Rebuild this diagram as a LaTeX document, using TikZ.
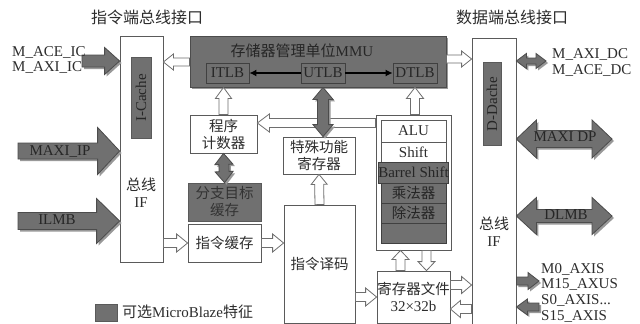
\documentclass[tikz,border=0pt]{standalone}
\usepackage{fontspec}
\setmainfont{Liberation Serif}
\newfontfamily\cjk{Noto Sans CJK SC}
\usetikzlibrary{calc,shadows,arrows.meta}
\definecolor{darkf}{RGB}{112,112,112}
\definecolor{edge}{RGB}{90,90,90}
\definecolor{txt}{RGB}{45,45,45}
\definecolor{harr}{RGB}{110,110,110}
\newcommand\zh[1]{{\cjk #1}}
\newcommand\fatarr[6][]{%
 \coordinate (fa-s) at #2; \coordinate (fa-e) at #3;
 \coordinate (fa-h) at ($(fa-e)!#6!(fa-s)$);
 \draw[#1] ($(fa-s)!#4!90:(fa-e)$) -- ($(fa-h)!#4!-90:(fa-s)$) -- ($(fa-h)!#5!-90:(fa-s)$) -- (fa-e) -- ($(fa-h)!#5!90:(fa-s)$) -- ($(fa-h)!#4!90:(fa-s)$) -- ($(fa-s)!#4!-90:(fa-e)$) -- cycle;}
\newcommand\fatdarr[6][]{%
 \coordinate (fa-s) at #2; \coordinate (fa-e) at #3;
 \coordinate (fa-h) at ($(fa-e)!#6!(fa-s)$);
 \coordinate (fa-g) at ($(fa-s)!#6!(fa-e)$);
 \draw[#1] (fa-s) -- ($(fa-g)!#5!90:(fa-e)$) -- ($(fa-g)!#4!90:(fa-e)$) -- ($(fa-h)!#4!-90:(fa-s)$) -- ($(fa-h)!#5!-90:(fa-s)$) -- (fa-e) -- ($(fa-h)!#5!90:(fa-s)$) -- ($(fa-h)!#4!90:(fa-s)$) -- ($(fa-g)!#4!-90:(fa-e)$) -- ($(fa-g)!#5!-90:(fa-e)$) -- cycle;}
\begin{document}
\begin{tikzpicture}[x=1pt,y=-1pt,
  lat/.style={font=\fontsize{15}{17}\selectfont, text=txt, inner sep=0pt, align=center},
  zht/.style={font=\cjk\fontsize{14.5}{17}\selectfont, text=txt, inner sep=0pt, align=center},
  wbox/.style={draw=edge, line width=0.8pt, fill=white, inner sep=0pt, text=txt, align=center, font=\cjk\fontsize{14.5}{17}\selectfont},
  dbox/.style={wbox, fill=darkf, text=black!85},
  shad/.style={drop shadow={shadow xshift=2pt, shadow yshift=-2pt, fill=black!40, opacity=1}},
  hol/.style={draw=harr, line width=0.8pt, fill=white},
  garr/.style={draw=black!70, line width=0.8pt, fill=darkf, shad},
  tlb/.style={draw=black!75, line width=0.8pt, fill=darkf, inner sep=0pt, minimum width=43pt, minimum height=20pt, font=\fontsize{15}{17}\selectfont, text=black!85}]
\useasboundingbox[fill=white] (0,0) rectangle (640,324);

% titles
\node[zht, font=\cjk\fontsize{16}{18}\selectfont] (t1) at (147,17) {指令端总线接口};
\node[zht, font=\cjk\fontsize{16}{18}\selectfont] (t2) at (512,17) {数据端总线接口};

% left bus
\node[wbox, minimum width=43pt, minimum height=226pt] (lbus) at (141.5,149) {};
\node[dbox, minimum width=20pt, minimum height=81pt] (icache) at (141,97.5) {};
\node[lat, rotate=90, text=black!85] (ictxt) at (141,98) {I-Cache};
\node[lat] (lbtxt) at (141,193) {\zh{总线}\\IF};

% right bus
\node[wbox, minimum width=44pt, minimum height=286pt] (rbus) at (494,181) {};
\node[dbox, minimum width=18pt, minimum height=83pt] (dcache) at (492,103.5) {};
\node[lat, rotate=90, text=black!85] (dctxt) at (492,104) {D-Dache};
\node[lat] (rbtxt) at (494,232) {\zh{总线}\\IF};

% MMU
\node[dbox, shad, draw=black!70, minimum width=256pt, minimum height=51pt] (mmu) at (318,61.5) {};
\node[lat, text=black!85] (mmut) at (302,51) {\zh{存储器管理单位}MMU};
\node[tlb] (itlb) at (227.5,73) {ITLB};
\node[tlb, minimum width=44pt] (utlb) at (323,73) {UTLB};
\node[tlb, minimum width=44pt] (dtlb) at (415,73) {DTLB};
\draw[black, line width=1.3pt, -{Latex[length=7pt,width=7pt]}] (utlb) -- (itlb);
\draw[black, line width=1.3pt, -{Latex[length=7pt,width=7pt]}] (utlb) -- (dtlb);

% middle blocks
\node[wbox, minimum width=67pt, minimum height=38pt] (pc) at (223.5,134) {程序\\计数器};
\node[dbox, minimum width=73pt, minimum height=38pt, text=black!80] (btc) at (224.5,202) {分支目标\\缓存};
\node[wbox, minimum width=73pt, minimum height=38pt] (ibuf) at (224.5,243) {指令缓存};
\node[wbox, minimum width=72pt, minimum height=37pt] (sfr) at (319,155.5) {特殊功能\\寄存器};
\node[wbox, minimum width=71pt, minimum height=118pt] (dec) at (319.5,264) {指令译码};

% ALU block
\node[wbox, minimum width=75pt, minimum height=135pt] (alubox) at (413.5,182.5) {};
\node[wbox, minimum width=65pt, minimum height=22pt, font=\fontsize{15}{17}\selectfont] (alu) at (413.5,131) {ALU};
\node[wbox, minimum width=65pt, minimum height=20pt, font=\fontsize{15}{17}\selectfont] (shift) at (413.5,152) {Shift};
\node[dbox, draw=black!75, minimum width=65pt, minimum height=21pt, font=\fontsize{15}{17}\selectfont] (barrel) at (413.5,172.5) {Barrel Shift};
\node[dbox, draw=black!75, minimum width=65pt, minimum height=20pt] (mul) at (413.5,193) {乘法器};
\node[dbox, draw=black!75, minimum width=65pt, minimum height=20pt] (div) at (413.5,213) {除法器};
\node[dbox, draw=black!75, minimum width=65pt, minimum height=20pt] (emp) at (413.5,233) {};

% register file
\node[wbox, minimum width=73pt, minimum height=52pt] (reg) at (413.5,297) {寄存器文件\\\fontsize{15}{17}\selectfont\rmfamily 32×32b};

% hollow arrows
\fatarr[hol]{(mmu.west |- 0,62)}{(lbus.east |- 0,62)}{4pt}{8pt}{10pt}
\fatarr[hol]{(mmu.east |- 0,59)}{(rbus.west |- 0,59)}{4pt}{8pt}{10pt}
\fatarr[hol]{(pc.north)}{(pc.north |- mmu.south)}{4.5pt}{8pt}{11pt}
\fatarr[hol]{(alubox.west |- 0,123)}{(pc.east |- 0,123)}{4.5pt}{9pt}{12pt}
\fatarr[hol]{(dec.north)}{(sfr.south)}{4.5pt}{8pt}{10pt}
\fatarr[hol]{([xshift=1.5pt]alubox.north)}{([xshift=1.5pt]alubox.north |- mmu.south)}{4.5pt}{8.5pt}{11pt}
\fatarr[hol]{(lbus.east |- ibuf.west)}{(ibuf.west)}{4.5pt}{9pt}{11pt}
\fatarr[hol]{(ibuf.east)}{(ibuf.east -| dec.west)}{4.5pt}{9pt}{11pt}
\fatarr[hol]{(dec.east |- reg.west)}{(reg.west)}{4.5pt}{9pt}{11pt}
\fatarr[hol]{([xshift=-13pt]reg.north)}{([xshift=-13pt]alubox.south)}{4.5pt}{8.5pt}{9pt}
\fatarr[hol]{([xshift=13pt]alubox.south)}{([xshift=13pt]reg.north)}{4.5pt}{8.5pt}{9pt}
\fatarr[hol]{(reg.east |- 0,285)}{(rbus.west |- 0,285)}{4.5pt}{8.5pt}{10pt}
\fatarr[hol]{(rbus.west |- 0,309)}{(reg.east |- 0,309)}{4.5pt}{8.5pt}{10pt}

% gray double arrows inside
\fatdarr[garr]{(pc.south)}{(btc.north)}{5pt}{9pt}{11pt}
\fatdarr[garr]{(utlb.south |- mmu.south)}{(utlb.south |- sfr.north)}{5.5pt}{10pt}{12pt}

% left external arrows
\coordinate (aceic) at (82,61);
\coordinate (maxiip) at (18,151);
\coordinate (ilmb) at (18,221);
\fatarr[garr]{(aceic)}{(lbus.west |- aceic)}{6pt}{13.5pt}{15pt}
\fatarr[garr]{(maxiip)}{(lbus.west |- maxiip)}{8pt}{23.5pt}{22pt}
\fatarr[garr]{(ilmb)}{(lbus.west |- ilmb)}{8.5pt}{22.5pt}{23pt}
\node[lat, anchor=west] (l1) at (12,52) {M\_ACE\_IC};
\node[lat, anchor=west] (l2) at (12,68) {M\_AXI\_IC};
\node[lat, text=black!85] (l3) at (60,152) {MAXI\_IP};
\node[lat, text=black!85] (l4) at (57,220) {ILMB};

% right external arrows
\coordinate (axidc) at (546,61);
\coordinate (maxidp) at (612,139);
\coordinate (dlmb) at (612,216);
\coordinate (m0) at (539,281);
\coordinate (s0) at (539,307);
\fatdarr[garr]{(rbus.east |- axidc)}{(axidc)}{3pt}{7.5pt}{10pt}
\fatdarr[garr]{(rbus.east |- maxidp)}{(maxidp)}{8.5pt}{19pt}{20pt}
\fatdarr[garr]{(rbus.east |- dlmb)}{(dlmb)}{6.5pt}{18.5pt}{20pt}
\fatarr[garr]{(rbus.east |- m0)}{(m0)}{4pt}{8.5pt}{11pt}
\fatarr[garr]{(s0)}{(rbus.east |- s0)}{4pt}{8pt}{11pt}
\node[lat, anchor=west] (r1) at (552,55) {M\_AXI\_DC};
\node[lat, anchor=west] (r2) at (552,70) {M\_ACE\_DC};
\node[lat, text=black!85] (r3) at (565,137) {MAXI DP};
\node[lat, text=black!85] (r4) at (566,215) {DLMB};
\node[lat, anchor=west] (r5) at (541,269) {M0\_AXIS};
\node[lat, anchor=west] (r6) at (541,284) {M15\_AXUS};
\node[lat, anchor=west] (r7) at (541,300) {S0\_AXIS...};
\node[lat, anchor=west] (r8) at (541,316) {S15\_AXIS};

% legend
\node[dbox, minimum width=22pt, minimum height=17pt] (leg) at (106,312.5) {};
\node[lat, anchor=west] (legt) at (122,312) {\zh{可选}MicroBlaze\zh{特征}};
\end{tikzpicture}
\end{document}
